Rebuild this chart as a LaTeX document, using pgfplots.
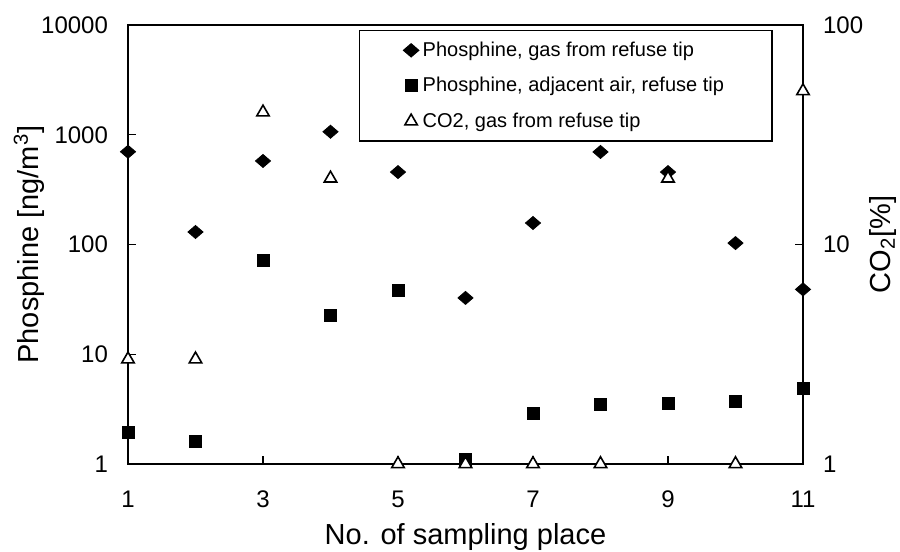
\documentclass[border=0pt]{standalone}
\usepackage{fontspec}
\setmainfont{Liberation Sans}
\usepackage{pgfplots}
\pgfplotsset{compat=1.18}

\begin{document}
\begin{tikzpicture}
\pgfplotsset{
  every axis/.append style={
    scale only axis, width=337.5pt, height=219.5pt,
    xmin=1, xmax=11, ymode=log, ymin=1,
    tick align=inside, major tick length=4pt,
    axis line style={line width=0.6pt},
    every tick/.style={black, line width=0.6pt},
    yminorticks=false,
    /pgf/number format/assume math mode=true,
    tick label style={font=\fontsize{12}{14}\selectfont},
    label style={font=\fontsize{14.5}{17}\selectfont},
    clip=false,
    legend image code/.code={\draw[#1] plot coordinates {(0pt,0pt)};},
  },
}
\begin{axis}[
    name=ax,
    ymax=10000,
    xtick={1,3,5,7,9,11},
    xtick pos=bottom, ytick pos=left,
    ytick={1,10,100,1000,10000},
    yticklabels={1,10,100,1000,10000},
    xticklabel style={yshift=-10pt},
    yticklabel style={xshift=-6.5pt},
    xlabel={No. of sampling place},
    ylabel={Phosphine [ng/m\textsuperscript{3}]},
    xlabel style={at={(axis description cs:0.5,-0.1663)}, anchor=center},
    ylabel style={at={(axis description cs:-0.1467,0.5)}, anchor=center},
  ]
  % phosphine, gas from refuse tip
  \addplot[only marks, mark=diamond*, mark size=3.25pt, mark options={xscale=1.55, fill=black}, black]
    coordinates {(1,700) (2,130) (3,577) (4,1065) (5,457) (6,32.6) (7,157) (8,697) (9,457) (10,103) (11,39)};
  % phosphine, adjacent air
  \addplot[only marks, mark=square*, mark size=3pt, black]
    coordinates {(1,1.95) (2,1.59) (3,72) (4,22.4) (5,38) (6,1.1) (7,2.9) (8,3.5) (9,3.6) (10,3.75) (11,4.9)};
\end{axis}
\begin{axis}[
    ymax=100,
    axis x line=none,
    axis y line*=right,
    ytick={1,10,100},
    yticklabels={1,10,100},
    yticklabel style={xshift=6.5pt},
    ylabel={CO\textsubscript{2}[\%]},
    ylabel style={at={(axis description cs:1.1185,0.5)}, anchor=center},
    legend style={at={(axis description cs:0.3422,0.9886)}, anchor=north west,
      draw=black, line width=0.6pt, font=\fontsize{10}{12}\selectfont,
      inner xsep=22pt, inner ysep=3.5pt, row sep=5pt,
      cells={anchor=west}},
  ]
  \addlegendimage{only marks, mark=diamond*, mark size=3.25pt, mark options={xscale=1.55, fill=black}, black}
  \addlegendentry{Phosphine, gas from refuse tip}
  \addlegendimage{only marks, mark=square*, mark size=3pt, black}
  \addlegendentry{Phosphine, adjacent air, refuse tip}
  % CO2, gas from refuse tip
  \addplot[only marks, mark=triangle*, mark size=3.6pt, mark options={fill=white, draw=black, line width=0.8pt}]
    coordinates {(1,3) (2,3) (3,40) (4,20) (5,1) (6,1) (7,1) (8,1) (9,20) (10,1) (11,50)};
  \addlegendentry{CO2, gas from refuse tip}
\end{axis}
\pgfresetboundingbox
\useasboundingbox ([shift={(-64pt,-44pt)}]ax.south west) rectangle ([shift={(48.5pt,12.5pt)}]ax.north east);
\end{tikzpicture}
\end{document}
